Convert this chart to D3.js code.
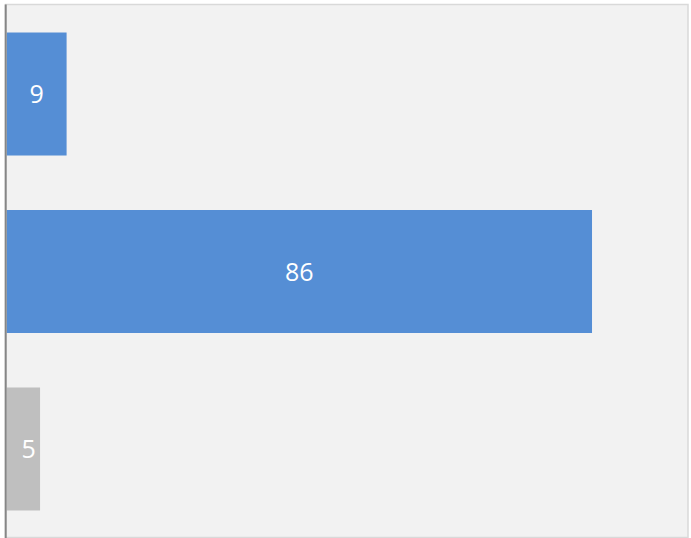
<!DOCTYPE html>
<html>
<head>
<meta charset="utf-8">
<script src="https://cdn.jsdelivr.net/npm/d3@7"></script>
<style>
  html, body { margin: 0; padding: 0; background: #ffffff; }
</style>
</head>
<body>
<div id="chart"></div>
<script>
// categories and values, top to bottom
let categories = ["A", "B", "C"];
let values = [8.8, 86, 4.9];
let barColors = ["#558ed5", "#558ed5", "#bfbfbf"];

let width = 691, height = 538;
let plot = { left: 5.5, top: 4.5, right: 688, bottom: 537.5 };

let svg = d3.select("#chart").append("svg")
    .attr("width", width)
    .attr("height", height);

// plot area
svg.append("rect")
    .attr("x", plot.left)
    .attr("y", plot.top)
    .attr("width", plot.right - plot.left)
    .attr("height", plot.bottom - plot.top)
    .attr("fill", "#f2f2f2")
    .attr("stroke", "#d9d9d9")
    .attr("stroke-width", 1.5);

let x = d3.scaleLinear()
    .domain([0, 100])
    .range([6.7, 687.3]);

let y = d3.scaleBand()
    .domain(categories)
    .range([5, 538])
    .paddingInner(0.307)
    .paddingOuter(0.155);

let bars = svg.selectAll(".bar")
    .data(values)
    .enter().append("g")
    .attr("class", "bar");

bars.append("rect")
    .attr("x", x(0))
    .attr("y", function (d, i) { return y(categories[i]); })
    .attr("width", function (d) { return x(d) - x(0); })
    .attr("height", y.bandwidth())
    .attr("fill", function (d, i) { return barColors[i]; });

// labels sit in the bar centre, but never closer than ~22px to the axis
bars.append("text")
    .attr("x", function (d) { return Math.max((x(0) + x(d)) / 2, x(0) + 22); })
    .attr("y", function (d, i) { return y(categories[i]) + y.bandwidth() / 2; })
    .attr("dy", "0.37em")
    .attr("text-anchor", "middle")
    .attr("fill", "#ffffff")
    .style("font", "25px 'Open Sans', sans-serif")
    .text(function (d) { return d3.format(".0f")(d); });

// left axis line
svg.append("line")
    .attr("x1", x(0) - 1)
    .attr("x2", x(0) - 1)
    .attr("y1", plot.top)
    .attr("y2", plot.bottom + 0.5)
    .attr("stroke", "#868686")
    .attr("stroke-width", 2);
</script>
</body>
</html>
